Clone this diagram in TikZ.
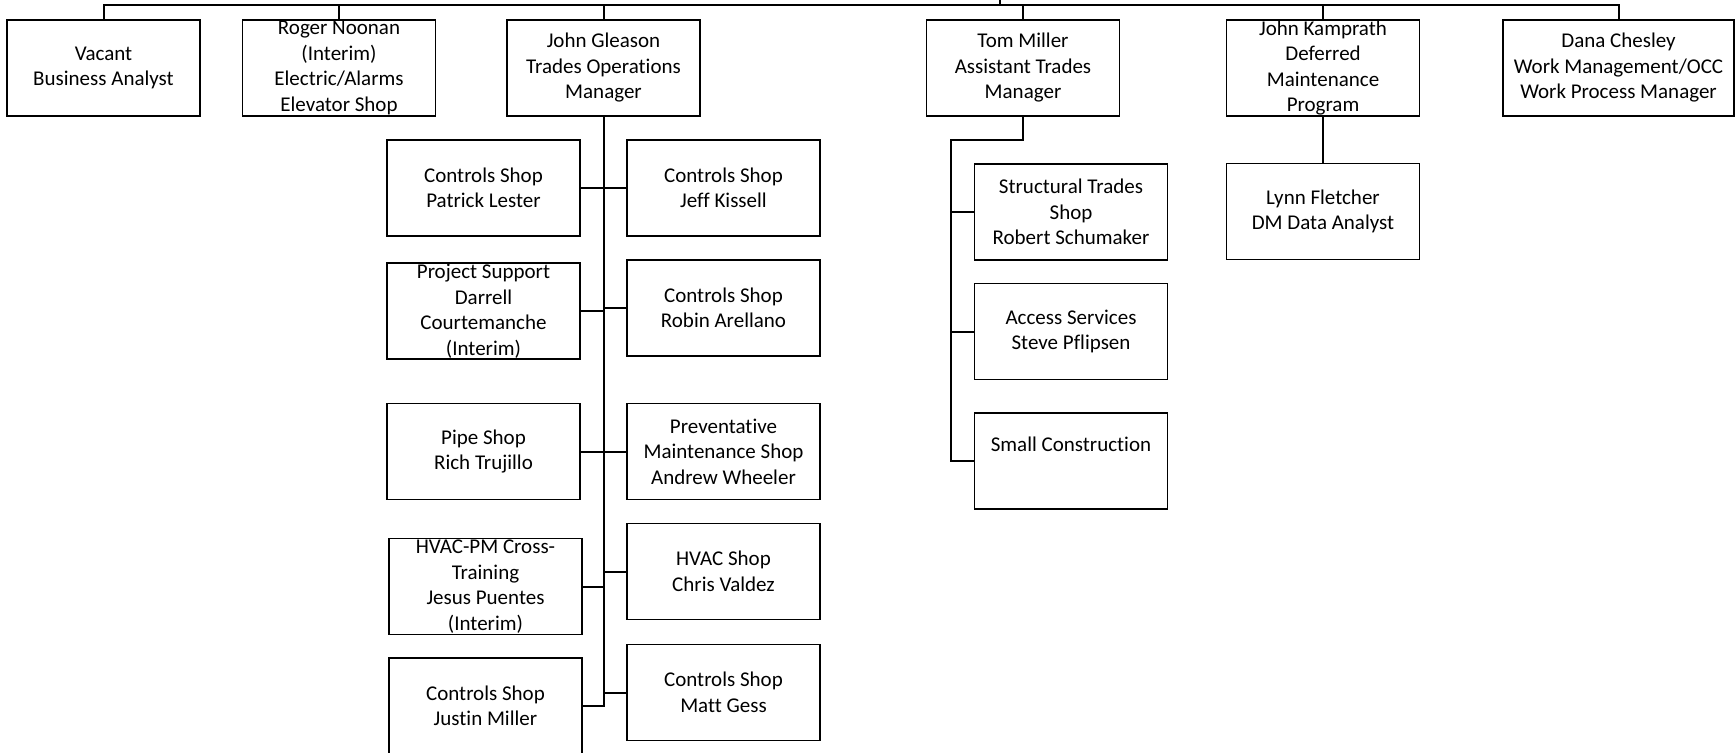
\documentclass[tikz,border=0pt]{standalone}
\usepackage{fontspec}
\setmainfont{Carlito}[Ligatures=NoCommon]
\usetikzlibrary{positioning,calc}
\tikzset{
  box/.style={draw=black, fill=white, line width=1.8pt, minimum width=193pt,
              minimum height=96pt, inner sep=0pt, align=center,
              font=\fontsize{21}{25.5}\selectfont},
  widebox/.style={box, minimum width=231pt},
  link/.style={draw=black, line width=2pt},
}

\begin{document}
\begin{tikzpicture}[x=1pt,y=-1pt]
    \useasboundingbox (0,0) rectangle (1736,752);
    % top row
    \node[box] (vacant) at (103.5,68) {Vacant\\Business Analyst};
    \node[box] (noonan) at (339,68) {Roger Noonan\\(Interim)\\Electric/Alarms\\Elevator Shop};
    \node[box] (gleason) at (603.5,68) {John Gleason\\Trades Operations\\Manager};
    \node[box] (tmiller) at (1023,68) {Tom Miller\\Assistant Trades\\Manager};
    \node[box] (kamprath) at (1323,68) {John Kamprath\\Deferred\\Maintenance\\Program};
    \node[widebox] (chesley) at (1618.5,68) {Dana Chesley\\Work Management/OCC\\Work Process Manager};
    \coordinate (root) at (1000,0);
    \coordinate (bus) at (1000,5);
    \draw[link] (root) -- (bus);
    \draw[link] (vacant.north) |- (bus) -| (chesley.north);
    \foreach \n in {noonan,gleason,tmiller,kamprath}
      \draw[link] (\n.north) -- (\n.north |- bus);
    % trades operations
    \node[box] (patrick) at (483.5,188) {Controls Shop\\Patrick Lester};
    \node[box] (darrell) at (483.5,311) {Project Support\\Darrell\\Courtemanche\\(Interim)};
    \node[box] (trujillo) at (483.5,451.5) {Pipe Shop\\Rich Trujillo};
    \node[box] (puentes) at (485.5,586.5) {HVAC-PM Cross-\\Training\\Jesus Puentes\\(Interim)};
    \node[box] (jmiller) at (485.5,706) {Controls Shop\\Justin Miller};
    \node[box] (kissell) at (723.5,188) {Controls Shop\\Jeff Kissell};
    \node[box] (arellano) at (723.5,308) {Controls Shop\\Robin Arellano};
    \node[box] (wheeler) at (723.5,451.5) {Preventative\\Maintenance Shop\\Andrew Wheeler};
    \node[box] (valdez) at (723.5,571.5) {HVAC Shop\\Chris Valdez};
    \node[box] (gess) at (723.5,692.5) {Controls Shop\\Matt Gess};
    \draw[link] (gleason.south) |- (jmiller.east);
    \foreach \n in {patrick,darrell,trujillo,puentes}
      \draw[link] (\n.east) -- (\n.east -| gleason.south);
    \foreach \n in {kissell,arellano,wheeler,valdez,gess}
      \draw[link] (\n.west) -- (\n.west -| gleason.south);
    % assistant trades
    \node[box] (structural) at (1071,212) {Structural Trades\\Shop\\Robert Schumaker};
    \node[box] (access) at (1071,331.5) {Access Services\\Steve Pflipsen};
    \node[box] (smallcon) at (1071,461) {Small Construction\\\strut};
    \coordinate (tspine) at (951,140);
    \draw[link] (tmiller.south) |- (tspine) |- (smallcon.west);
    \foreach \n in {structural,access}
      \draw[link] (\n.west) -- (\n.west -| tspine);
    % deferred maintenance
    \node[box] (fletcher) at (1323,211.5) {Lynn Fletcher\\DM Data Analyst};
    \draw[link] (kamprath.south) -- (fletcher.north);
\end{tikzpicture}
\end{document}
